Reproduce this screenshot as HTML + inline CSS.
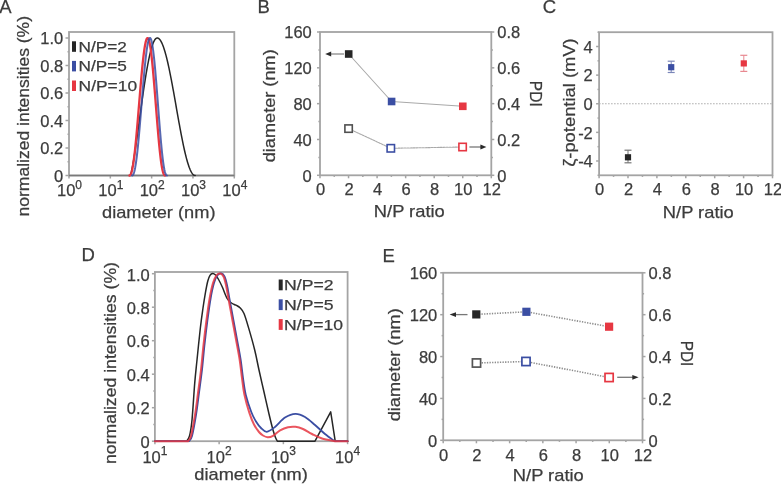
<!DOCTYPE html>
<html><head><meta charset="utf-8"><style>html,body{margin:0;padding:0;background:#fff;}svg{display:block;will-change:transform;}</style></head>
<body><svg width="781" height="484" viewBox="0 0 781 484" style="font-family:'Liberation Sans', sans-serif">
<rect width="781" height="484" fill="#fff"/>
<text x="-0.8" y="13.4" font-size="18.5" fill="#3c3c3c" stroke="#3c3c3c" stroke-width="0.25">A</text>
<text x="257.6" y="13.4" font-size="18.5" fill="#3c3c3c" stroke="#3c3c3c" stroke-width="0.25">B</text>
<text x="542.8" y="13.4" font-size="18.5" fill="#3c3c3c" stroke="#3c3c3c" stroke-width="0.25">C</text>
<text x="81.6" y="261.4" font-size="18.5" fill="#3c3c3c" stroke="#3c3c3c" stroke-width="0.25">D</text>
<text x="382.6" y="262.0" font-size="18.5" fill="#3c3c3c" stroke="#3c3c3c" stroke-width="0.25">E</text>
<line x1="65.50" y1="175.50" x2="69.00" y2="175.50" stroke="#a4a4a4" stroke-width="1.5"/>
<line x1="67.50" y1="161.75" x2="69.00" y2="161.75" stroke="#a4a4a4" stroke-width="1.5"/>
<line x1="65.50" y1="148.00" x2="69.00" y2="148.00" stroke="#a4a4a4" stroke-width="1.5"/>
<line x1="67.50" y1="134.25" x2="69.00" y2="134.25" stroke="#a4a4a4" stroke-width="1.5"/>
<line x1="65.50" y1="120.50" x2="69.00" y2="120.50" stroke="#a4a4a4" stroke-width="1.5"/>
<line x1="67.50" y1="106.75" x2="69.00" y2="106.75" stroke="#a4a4a4" stroke-width="1.5"/>
<line x1="65.50" y1="93.00" x2="69.00" y2="93.00" stroke="#a4a4a4" stroke-width="1.5"/>
<line x1="67.50" y1="79.25" x2="69.00" y2="79.25" stroke="#a4a4a4" stroke-width="1.5"/>
<line x1="65.50" y1="65.50" x2="69.00" y2="65.50" stroke="#a4a4a4" stroke-width="1.5"/>
<line x1="67.50" y1="51.75" x2="69.00" y2="51.75" stroke="#a4a4a4" stroke-width="1.5"/>
<line x1="65.50" y1="38.00" x2="69.00" y2="38.00" stroke="#a4a4a4" stroke-width="1.5"/>
<line x1="69.00" y1="175.50" x2="69.00" y2="178.50" stroke="#a4a4a4" stroke-width="1.5"/>
<line x1="110.33" y1="175.50" x2="110.33" y2="178.50" stroke="#a4a4a4" stroke-width="1.5"/>
<line x1="151.65" y1="175.50" x2="151.65" y2="178.50" stroke="#a4a4a4" stroke-width="1.5"/>
<line x1="192.98" y1="175.50" x2="192.98" y2="178.50" stroke="#a4a4a4" stroke-width="1.5"/>
<line x1="234.30" y1="175.50" x2="234.30" y2="178.50" stroke="#a4a4a4" stroke-width="1.5"/>
<rect x="69" y="32" width="165.30" height="143.50" fill="none" stroke="#a4a4a4" stroke-width="1.8"/>
<line x1="69.00" y1="175.50" x2="234.30" y2="175.50" stroke="#7a7a7a" stroke-width="1.6"/>
<text x="63.3" y="181.8" font-size="16.5" text-anchor="end" fill="#3c3c3c" stroke="#3c3c3c" stroke-width="0.25">0</text>
<text x="63.3" y="154.3" font-size="16.5" text-anchor="end" fill="#3c3c3c" stroke="#3c3c3c" stroke-width="0.25">0.2</text>
<text x="63.3" y="126.8" font-size="16.5" text-anchor="end" fill="#3c3c3c" stroke="#3c3c3c" stroke-width="0.25">0.4</text>
<text x="63.3" y="99.3" font-size="16.5" text-anchor="end" fill="#3c3c3c" stroke="#3c3c3c" stroke-width="0.25">0.6</text>
<text x="63.3" y="71.8" font-size="16.5" text-anchor="end" fill="#3c3c3c" stroke="#3c3c3c" stroke-width="0.25">0.8</text>
<text x="63.3" y="44.3" font-size="16.5" text-anchor="end" fill="#3c3c3c" stroke="#3c3c3c" stroke-width="0.25">1.0</text>
<text x="57.0" y="196.0" font-size="16.5" fill="#3c3c3c" stroke="#3c3c3c" stroke-width="0.25">10<tspan dy="-7.5" font-size="12">0</tspan></text>
<text x="98.3" y="196.0" font-size="16.5" fill="#3c3c3c" stroke="#3c3c3c" stroke-width="0.25">10<tspan dy="-7.5" font-size="12">1</tspan></text>
<text x="139.7" y="196.0" font-size="16.5" fill="#3c3c3c" stroke="#3c3c3c" stroke-width="0.25">10<tspan dy="-7.5" font-size="12">2</tspan></text>
<text x="181.0" y="196.0" font-size="16.5" fill="#3c3c3c" stroke="#3c3c3c" stroke-width="0.25">10<tspan dy="-7.5" font-size="12">3</tspan></text>
<text x="222.3" y="196.0" font-size="16.5" fill="#3c3c3c" stroke="#3c3c3c" stroke-width="0.25">10<tspan dy="-7.5" font-size="12">4</tspan></text>
<text x="102.0" y="218.3" font-size="17" textLength="113.5" lengthAdjust="spacingAndGlyphs" fill="#3c3c3c" stroke="#3c3c3c" stroke-width="0.25">diameter (nm)</text>
<text x="29.3" y="216.5" font-size="17" textLength="200.5" lengthAdjust="spacingAndGlyphs" transform="rotate(-90 29.3 216.5)" fill="#3c3c3c" stroke="#3c3c3c" stroke-width="0.25">normalized intensities (%)</text>
<rect x="72.00" y="41.30" width="4.00" height="10.50" fill="#262626"/>
<text x="78.6" y="51.8" font-size="15.5" textLength="48.3" lengthAdjust="spacingAndGlyphs" fill="#3c3c3c" stroke="#3c3c3c" stroke-width="0.25">N/P=2</text>
<rect x="72.00" y="60.90" width="4.00" height="10.50" fill="#3b4ea3"/>
<text x="78.6" y="71.4" font-size="15.5" textLength="48.3" lengthAdjust="spacingAndGlyphs" fill="#3c3c3c" stroke="#3c3c3c" stroke-width="0.25">N/P=5</text>
<rect x="72.00" y="80.50" width="4.00" height="10.50" fill="#e63742"/>
<text x="78.6" y="91.0" font-size="15.5" textLength="58.5" lengthAdjust="spacingAndGlyphs" fill="#3c3c3c" stroke="#3c3c3c" stroke-width="0.25">N/P=10</text>
<path d="M130.20,175.50 L130.60,174.64 L131.00,173.31 L131.40,171.72 L131.80,169.94 L132.20,167.99 L132.60,165.90 L133.00,163.70 L133.40,161.40 L133.80,159.00 L134.20,156.52 L134.60,153.97 L135.00,151.36 L135.40,148.69 L135.80,145.96 L136.20,143.19 L136.60,140.39 L137.00,137.55 L137.40,134.68 L137.80,131.79 L138.20,128.88 L138.60,125.96 L139.00,123.03 L139.40,120.09 L139.80,117.16 L140.20,114.23 L140.60,111.31 L141.00,108.40 L141.40,105.50 L141.80,102.63 L142.20,99.78 L142.60,96.96 L143.00,94.17 L143.40,91.42 L143.80,88.70 L144.20,86.03 L144.60,83.40 L145.00,80.82 L145.40,78.29 L145.80,75.82 L146.20,73.40 L146.60,71.04 L147.00,68.75 L147.40,66.52 L147.80,64.36 L148.20,62.27 L148.60,60.25 L149.00,58.31 L149.40,56.45 L149.80,54.66 L150.20,52.96 L150.60,51.34 L151.00,49.81 L151.40,48.36 L151.80,47.01 L152.20,45.74 L152.60,44.57 L153.00,43.49 L153.40,42.50 L153.80,41.61 L154.20,40.81 L154.60,40.12 L155.00,39.52 L155.40,39.02 L155.80,38.62 L156.20,38.31 L156.60,38.11 L157.00,38.01 L157.40,38.01 L157.80,38.08 L158.20,38.23 L158.60,38.46 L159.00,38.76 L159.40,39.13 L159.80,39.58 L160.20,40.10 L160.60,40.70 L161.00,41.36 L161.40,42.10 L161.80,42.91 L162.20,43.79 L162.60,44.74 L163.00,45.75 L163.40,46.84 L163.80,47.98 L164.20,49.19 L164.60,50.47 L165.00,51.81 L165.40,53.20 L165.80,54.66 L166.20,56.17 L166.60,57.74 L167.00,59.36 L167.40,61.03 L167.80,62.75 L168.20,64.52 L168.60,66.34 L169.00,68.20 L169.40,70.10 L169.80,72.05 L170.20,74.03 L170.60,76.05 L171.00,78.10 L171.40,80.18 L171.80,82.29 L172.20,84.43 L172.60,86.59 L173.00,88.77 L173.40,90.98 L173.80,93.20 L174.20,95.43 L174.60,97.68 L175.00,99.94 L175.40,102.21 L175.80,104.48 L176.20,106.75 L176.60,109.02 L177.00,111.29 L177.40,113.56 L177.80,115.82 L178.20,118.07 L178.60,120.30 L179.00,122.52 L179.40,124.73 L179.80,126.91 L180.20,129.07 L180.60,131.21 L181.00,133.32 L181.40,135.40 L181.80,137.45 L182.20,139.47 L182.60,141.45 L183.00,143.40 L183.40,145.30 L183.80,147.16 L184.20,148.98 L184.60,150.75 L185.00,152.47 L185.40,154.14 L185.80,155.76 L186.20,157.33 L186.60,158.84 L187.00,160.30 L187.40,161.69 L187.80,163.03 L188.20,164.31 L188.60,165.52 L189.00,166.66 L189.40,167.75 L189.80,168.76 L190.20,169.71 L190.60,170.59 L191.00,171.40 L191.40,172.14 L191.80,172.80 L192.20,173.40 L192.60,173.92 L193.00,174.37 L193.40,174.74 L193.80,175.04 L194.20,175.27 L194.60,175.42 L195.00,175.49 L195.20,175.50" fill="none" stroke="#262626" stroke-width="1.5" stroke-linejoin="round" stroke-linecap="round"/>
<path d="M129.40,175.50 L129.80,175.42 L130.20,175.12 L130.60,174.57 L131.00,173.75 L131.40,172.65 L131.80,171.26 L132.20,169.58 L132.60,167.62 L133.00,165.36 L133.40,162.82 L133.80,160.01 L134.20,156.93 L134.60,153.60 L135.00,150.02 L135.40,146.23 L135.80,142.23 L136.20,138.03 L136.60,133.67 L137.00,129.17 L137.40,124.54 L137.80,119.81 L138.20,115.00 L138.60,110.14 L139.00,105.25 L139.40,100.36 L139.80,95.49 L140.20,90.67 L140.60,85.93 L141.00,81.29 L141.40,76.77 L141.80,72.41 L142.20,68.21 L142.60,64.22 L143.00,60.44 L143.40,56.89 L143.80,53.61 L144.20,50.60 L144.60,47.88 L145.00,45.47 L145.40,43.38 L145.80,41.62 L146.20,40.20 L146.60,39.12 L147.00,38.41 L147.40,38.05 L147.80,38.05 L148.20,38.44 L148.60,39.21 L149.00,40.37 L149.40,41.91 L149.80,43.81 L150.20,46.07 L150.60,48.67 L151.00,51.59 L151.40,54.83 L151.80,58.35 L152.20,62.15 L152.60,66.19 L153.00,70.45 L153.40,74.92 L153.80,79.56 L154.20,84.34 L154.60,89.24 L155.00,94.23 L155.40,99.28 L155.80,104.37 L156.20,109.45 L156.60,114.51 L157.00,119.52 L157.40,124.44 L157.80,129.26 L158.20,133.94 L158.60,138.46 L159.00,142.80 L159.40,146.93 L159.80,150.83 L160.20,154.49 L160.60,157.88 L161.00,160.99 L161.40,163.82 L161.80,166.34 L162.20,168.56 L162.60,170.46 L163.00,172.05 L163.40,173.32 L163.80,174.29 L164.20,174.96 L164.60,175.35 L165.00,175.50 L165.10,175.50" fill="none" stroke="#e63742" stroke-width="2.3" stroke-linejoin="round" stroke-linecap="round"/>
<path d="M132.00,175.50 L132.40,175.41 L132.80,175.11 L133.20,174.54 L133.60,173.70 L134.00,172.58 L134.40,171.16 L134.80,169.44 L135.20,167.43 L135.60,165.12 L136.00,162.52 L136.40,159.64 L136.80,156.50 L137.20,153.09 L137.60,149.45 L138.00,145.57 L138.40,141.49 L138.80,137.22 L139.20,132.78 L139.60,128.20 L140.00,123.49 L140.40,118.69 L140.80,113.81 L141.20,108.89 L141.60,103.94 L142.00,99.00 L142.40,94.09 L142.80,89.24 L143.20,84.47 L143.60,79.82 L144.00,75.30 L144.40,70.94 L144.80,66.77 L145.20,62.80 L145.60,59.07 L146.00,55.59 L146.40,52.37 L146.80,49.45 L147.20,46.83 L147.60,44.52 L148.00,42.55 L148.40,40.93 L148.80,39.65 L149.20,38.74 L149.60,38.18 L150.00,38.00 L150.40,38.21 L150.80,38.82 L151.20,39.85 L151.60,41.28 L152.00,43.10 L152.40,45.30 L152.80,47.87 L153.20,50.79 L153.60,54.04 L154.00,57.60 L154.40,61.46 L154.80,65.58 L155.20,69.94 L155.60,74.52 L156.00,79.28 L156.40,84.20 L156.80,89.24 L157.20,94.38 L157.60,99.58 L158.00,104.81 L158.40,110.05 L158.80,115.25 L159.20,120.40 L159.60,125.45 L160.00,130.37 L160.40,135.15 L160.80,139.76 L161.20,144.16 L161.60,148.33 L162.00,152.26 L162.40,155.92 L162.80,159.29 L163.20,162.36 L163.60,165.12 L164.00,167.55 L164.40,169.66 L164.80,171.43 L165.20,172.87 L165.60,173.98 L166.00,174.77 L166.40,175.26 L166.80,175.48 L167.00,175.50" fill="none" stroke="#3b4ea3" stroke-width="2.0" stroke-linejoin="round" stroke-linecap="round" stroke-opacity="0.85"/>
<line x1="317.00" y1="175.30" x2="320.00" y2="175.30" stroke="#a4a4a4" stroke-width="1.5"/>
<line x1="491.30" y1="175.30" x2="494.30" y2="175.30" stroke="#a4a4a4" stroke-width="1.5"/>
<line x1="318.40" y1="157.39" x2="320.00" y2="157.39" stroke="#a4a4a4" stroke-width="1.5"/>
<line x1="491.30" y1="157.39" x2="492.90" y2="157.39" stroke="#a4a4a4" stroke-width="1.5"/>
<line x1="317.00" y1="139.48" x2="320.00" y2="139.48" stroke="#a4a4a4" stroke-width="1.5"/>
<line x1="491.30" y1="139.48" x2="494.30" y2="139.48" stroke="#a4a4a4" stroke-width="1.5"/>
<line x1="318.40" y1="121.56" x2="320.00" y2="121.56" stroke="#a4a4a4" stroke-width="1.5"/>
<line x1="491.30" y1="121.56" x2="492.90" y2="121.56" stroke="#a4a4a4" stroke-width="1.5"/>
<line x1="317.00" y1="103.65" x2="320.00" y2="103.65" stroke="#a4a4a4" stroke-width="1.5"/>
<line x1="491.30" y1="103.65" x2="494.30" y2="103.65" stroke="#a4a4a4" stroke-width="1.5"/>
<line x1="318.40" y1="85.74" x2="320.00" y2="85.74" stroke="#a4a4a4" stroke-width="1.5"/>
<line x1="491.30" y1="85.74" x2="492.90" y2="85.74" stroke="#a4a4a4" stroke-width="1.5"/>
<line x1="317.00" y1="67.83" x2="320.00" y2="67.83" stroke="#a4a4a4" stroke-width="1.5"/>
<line x1="491.30" y1="67.83" x2="494.30" y2="67.83" stroke="#a4a4a4" stroke-width="1.5"/>
<line x1="318.40" y1="49.91" x2="320.00" y2="49.91" stroke="#a4a4a4" stroke-width="1.5"/>
<line x1="491.30" y1="49.91" x2="492.90" y2="49.91" stroke="#a4a4a4" stroke-width="1.5"/>
<line x1="317.00" y1="32.00" x2="320.00" y2="32.00" stroke="#a4a4a4" stroke-width="1.5"/>
<line x1="491.30" y1="32.00" x2="494.30" y2="32.00" stroke="#a4a4a4" stroke-width="1.5"/>
<line x1="320.00" y1="175.30" x2="320.00" y2="178.30" stroke="#a4a4a4" stroke-width="1.5"/>
<line x1="334.27" y1="175.30" x2="334.27" y2="176.90" stroke="#a4a4a4" stroke-width="1.5"/>
<line x1="348.55" y1="175.30" x2="348.55" y2="178.30" stroke="#a4a4a4" stroke-width="1.5"/>
<line x1="362.82" y1="175.30" x2="362.82" y2="176.90" stroke="#a4a4a4" stroke-width="1.5"/>
<line x1="377.10" y1="175.30" x2="377.10" y2="178.30" stroke="#a4a4a4" stroke-width="1.5"/>
<line x1="391.38" y1="175.30" x2="391.38" y2="176.90" stroke="#a4a4a4" stroke-width="1.5"/>
<line x1="405.65" y1="175.30" x2="405.65" y2="178.30" stroke="#a4a4a4" stroke-width="1.5"/>
<line x1="419.93" y1="175.30" x2="419.93" y2="176.90" stroke="#a4a4a4" stroke-width="1.5"/>
<line x1="434.20" y1="175.30" x2="434.20" y2="178.30" stroke="#a4a4a4" stroke-width="1.5"/>
<line x1="448.48" y1="175.30" x2="448.48" y2="176.90" stroke="#a4a4a4" stroke-width="1.5"/>
<line x1="462.75" y1="175.30" x2="462.75" y2="178.30" stroke="#a4a4a4" stroke-width="1.5"/>
<line x1="477.02" y1="175.30" x2="477.02" y2="176.90" stroke="#a4a4a4" stroke-width="1.5"/>
<line x1="491.30" y1="175.30" x2="491.30" y2="178.30" stroke="#a4a4a4" stroke-width="1.5"/>
<rect x="320" y="32" width="171.30" height="143.30" fill="none" stroke="#a4a4a4" stroke-width="1.8"/>
<text x="311.8" y="181.6" font-size="16.5" text-anchor="end" fill="#3c3c3c" stroke="#3c3c3c" stroke-width="0.25">0</text>
<text x="311.8" y="145.8" font-size="16.5" text-anchor="end" fill="#3c3c3c" stroke="#3c3c3c" stroke-width="0.25">40</text>
<text x="311.8" y="110.0" font-size="16.5" text-anchor="end" fill="#3c3c3c" stroke="#3c3c3c" stroke-width="0.25">80</text>
<text x="311.8" y="74.1" font-size="16.5" text-anchor="end" fill="#3c3c3c" stroke="#3c3c3c" stroke-width="0.25">120</text>
<text x="311.8" y="38.3" font-size="16.5" text-anchor="end" fill="#3c3c3c" stroke="#3c3c3c" stroke-width="0.25">160</text>
<text x="497.3" y="181.6" font-size="16.5" fill="#3c3c3c" stroke="#3c3c3c" stroke-width="0.25">0</text>
<text x="497.3" y="145.8" font-size="16.5" fill="#3c3c3c" stroke="#3c3c3c" stroke-width="0.25">0.2</text>
<text x="497.3" y="110.0" font-size="16.5" fill="#3c3c3c" stroke="#3c3c3c" stroke-width="0.25">0.4</text>
<text x="497.3" y="74.1" font-size="16.5" fill="#3c3c3c" stroke="#3c3c3c" stroke-width="0.25">0.6</text>
<text x="497.3" y="38.3" font-size="16.5" fill="#3c3c3c" stroke="#3c3c3c" stroke-width="0.25">0.8</text>
<text x="320.5" y="195.3" font-size="16.5" text-anchor="middle" fill="#3c3c3c" stroke="#3c3c3c" stroke-width="0.25">0</text>
<text x="349.1" y="195.3" font-size="16.5" text-anchor="middle" fill="#3c3c3c" stroke="#3c3c3c" stroke-width="0.25">2</text>
<text x="377.6" y="195.3" font-size="16.5" text-anchor="middle" fill="#3c3c3c" stroke="#3c3c3c" stroke-width="0.25">4</text>
<text x="406.1" y="195.3" font-size="16.5" text-anchor="middle" fill="#3c3c3c" stroke="#3c3c3c" stroke-width="0.25">6</text>
<text x="434.7" y="195.3" font-size="16.5" text-anchor="middle" fill="#3c3c3c" stroke="#3c3c3c" stroke-width="0.25">8</text>
<text x="463.2" y="195.3" font-size="16.5" text-anchor="middle" fill="#3c3c3c" stroke="#3c3c3c" stroke-width="0.25">10</text>
<text x="491.8" y="195.3" font-size="16.5" text-anchor="middle" fill="#3c3c3c" stroke="#3c3c3c" stroke-width="0.25">12</text>
<text x="373.8" y="217.0" font-size="17" textLength="71.0" lengthAdjust="spacingAndGlyphs" fill="#3c3c3c" stroke="#3c3c3c" stroke-width="0.25">N/P ratio</text>
<text x="275.2" y="162.3" font-size="17" textLength="113.0" lengthAdjust="spacingAndGlyphs" transform="rotate(-90 275.2 162.3)" fill="#3c3c3c" stroke="#3c3c3c" stroke-width="0.25">diameter (nm)</text>
<text x="529.6" y="80.8" font-size="17" textLength="26.0" lengthAdjust="spacingAndGlyphs" transform="rotate(90 529.6 80.8)" fill="#3c3c3c" stroke="#3c3c3c" stroke-width="0.25">PDI</text>
<path d="M348.7,54 L391.6,101.5 L462.8,106.3" fill="none" stroke="#a9a9a9" stroke-width="1.1" stroke-linejoin="round" stroke-linecap="round"/>
<path d="M348.6,128.6 L390.8,148.3 L462.6,147" fill="none" stroke="#a9a9a9" stroke-width="1.1" stroke-linejoin="round" stroke-linecap="round" stroke-dasharray="2,1"/>
<line x1="344.00" y1="54.00" x2="330.00" y2="54.00" stroke="#8a8a8a" stroke-width="1.3"/>
<path d="M325.2,54 L331.2,51.6 L331.2,56.4 Z" fill="#2a2a2a"/>
<line x1="469.40" y1="147.00" x2="481.50" y2="147.00" stroke="#777" stroke-width="1.3"/>
<path d="M486.4,147 L480.4,144.6 L480.4,149.4 Z" fill="#2a2a2a"/>
<rect x="344.90" y="50.20" width="7.60" height="7.60" fill="#262626"/>
<rect x="387.80" y="97.70" width="7.60" height="7.60" fill="#3b4ea3"/>
<rect x="459.00" y="102.50" width="7.60" height="7.60" fill="#e63742"/>
<rect x="344.90" y="124.90" width="7.40" height="7.40" fill="#fff" stroke="#505050" stroke-width="1.6"/>
<rect x="387.10" y="144.60" width="7.40" height="7.40" fill="#fff" stroke="#3b4ea3" stroke-width="1.6"/>
<rect x="458.90" y="143.30" width="7.40" height="7.40" fill="#fff" stroke="#e63742" stroke-width="1.6"/>
<line x1="440.20" y1="440.30" x2="443.20" y2="440.30" stroke="#a4a4a4" stroke-width="1.5"/>
<line x1="642.50" y1="440.30" x2="645.50" y2="440.30" stroke="#a4a4a4" stroke-width="1.5"/>
<line x1="441.60" y1="419.36" x2="443.20" y2="419.36" stroke="#a4a4a4" stroke-width="1.5"/>
<line x1="642.50" y1="419.36" x2="644.10" y2="419.36" stroke="#a4a4a4" stroke-width="1.5"/>
<line x1="440.20" y1="398.43" x2="443.20" y2="398.43" stroke="#a4a4a4" stroke-width="1.5"/>
<line x1="642.50" y1="398.43" x2="645.50" y2="398.43" stroke="#a4a4a4" stroke-width="1.5"/>
<line x1="441.60" y1="377.49" x2="443.20" y2="377.49" stroke="#a4a4a4" stroke-width="1.5"/>
<line x1="642.50" y1="377.49" x2="644.10" y2="377.49" stroke="#a4a4a4" stroke-width="1.5"/>
<line x1="440.20" y1="356.55" x2="443.20" y2="356.55" stroke="#a4a4a4" stroke-width="1.5"/>
<line x1="642.50" y1="356.55" x2="645.50" y2="356.55" stroke="#a4a4a4" stroke-width="1.5"/>
<line x1="441.60" y1="335.61" x2="443.20" y2="335.61" stroke="#a4a4a4" stroke-width="1.5"/>
<line x1="642.50" y1="335.61" x2="644.10" y2="335.61" stroke="#a4a4a4" stroke-width="1.5"/>
<line x1="440.20" y1="314.68" x2="443.20" y2="314.68" stroke="#a4a4a4" stroke-width="1.5"/>
<line x1="642.50" y1="314.68" x2="645.50" y2="314.68" stroke="#a4a4a4" stroke-width="1.5"/>
<line x1="441.60" y1="293.74" x2="443.20" y2="293.74" stroke="#a4a4a4" stroke-width="1.5"/>
<line x1="642.50" y1="293.74" x2="644.10" y2="293.74" stroke="#a4a4a4" stroke-width="1.5"/>
<line x1="440.20" y1="272.80" x2="443.20" y2="272.80" stroke="#a4a4a4" stroke-width="1.5"/>
<line x1="642.50" y1="272.80" x2="645.50" y2="272.80" stroke="#a4a4a4" stroke-width="1.5"/>
<line x1="443.20" y1="440.30" x2="443.20" y2="443.30" stroke="#a4a4a4" stroke-width="1.5"/>
<line x1="459.81" y1="440.30" x2="459.81" y2="441.90" stroke="#a4a4a4" stroke-width="1.5"/>
<line x1="476.42" y1="440.30" x2="476.42" y2="443.30" stroke="#a4a4a4" stroke-width="1.5"/>
<line x1="493.02" y1="440.30" x2="493.02" y2="441.90" stroke="#a4a4a4" stroke-width="1.5"/>
<line x1="509.63" y1="440.30" x2="509.63" y2="443.30" stroke="#a4a4a4" stroke-width="1.5"/>
<line x1="526.24" y1="440.30" x2="526.24" y2="441.90" stroke="#a4a4a4" stroke-width="1.5"/>
<line x1="542.85" y1="440.30" x2="542.85" y2="443.30" stroke="#a4a4a4" stroke-width="1.5"/>
<line x1="559.46" y1="440.30" x2="559.46" y2="441.90" stroke="#a4a4a4" stroke-width="1.5"/>
<line x1="576.07" y1="440.30" x2="576.07" y2="443.30" stroke="#a4a4a4" stroke-width="1.5"/>
<line x1="592.67" y1="440.30" x2="592.67" y2="441.90" stroke="#a4a4a4" stroke-width="1.5"/>
<line x1="609.28" y1="440.30" x2="609.28" y2="443.30" stroke="#a4a4a4" stroke-width="1.5"/>
<line x1="625.89" y1="440.30" x2="625.89" y2="441.90" stroke="#a4a4a4" stroke-width="1.5"/>
<line x1="642.50" y1="440.30" x2="642.50" y2="443.30" stroke="#a4a4a4" stroke-width="1.5"/>
<rect x="443.2" y="272.8" width="199.30" height="167.50" fill="none" stroke="#a4a4a4" stroke-width="1.8"/>
<text x="437.3" y="446.6" font-size="16.5" text-anchor="end" fill="#3c3c3c" stroke="#3c3c3c" stroke-width="0.25">0</text>
<text x="437.3" y="404.7" font-size="16.5" text-anchor="end" fill="#3c3c3c" stroke="#3c3c3c" stroke-width="0.25">40</text>
<text x="437.3" y="362.9" font-size="16.5" text-anchor="end" fill="#3c3c3c" stroke="#3c3c3c" stroke-width="0.25">80</text>
<text x="437.3" y="321.0" font-size="16.5" text-anchor="end" fill="#3c3c3c" stroke="#3c3c3c" stroke-width="0.25">120</text>
<text x="437.3" y="279.1" font-size="16.5" text-anchor="end" fill="#3c3c3c" stroke="#3c3c3c" stroke-width="0.25">160</text>
<text x="648.5" y="446.6" font-size="16.5" fill="#3c3c3c" stroke="#3c3c3c" stroke-width="0.25">0</text>
<text x="648.5" y="404.7" font-size="16.5" fill="#3c3c3c" stroke="#3c3c3c" stroke-width="0.25">0.2</text>
<text x="648.5" y="362.9" font-size="16.5" fill="#3c3c3c" stroke="#3c3c3c" stroke-width="0.25">0.4</text>
<text x="648.5" y="321.0" font-size="16.5" fill="#3c3c3c" stroke="#3c3c3c" stroke-width="0.25">0.6</text>
<text x="648.5" y="279.1" font-size="16.5" fill="#3c3c3c" stroke="#3c3c3c" stroke-width="0.25">0.8</text>
<text x="443.7" y="461.3" font-size="16.5" text-anchor="middle" fill="#3c3c3c" stroke="#3c3c3c" stroke-width="0.25">0</text>
<text x="476.9" y="461.3" font-size="16.5" text-anchor="middle" fill="#3c3c3c" stroke="#3c3c3c" stroke-width="0.25">2</text>
<text x="510.1" y="461.3" font-size="16.5" text-anchor="middle" fill="#3c3c3c" stroke="#3c3c3c" stroke-width="0.25">4</text>
<text x="543.4" y="461.3" font-size="16.5" text-anchor="middle" fill="#3c3c3c" stroke="#3c3c3c" stroke-width="0.25">6</text>
<text x="576.6" y="461.3" font-size="16.5" text-anchor="middle" fill="#3c3c3c" stroke="#3c3c3c" stroke-width="0.25">8</text>
<text x="609.8" y="461.3" font-size="16.5" text-anchor="middle" fill="#3c3c3c" stroke="#3c3c3c" stroke-width="0.25">10</text>
<text x="643.0" y="461.3" font-size="16.5" text-anchor="middle" fill="#3c3c3c" stroke="#3c3c3c" stroke-width="0.25">12</text>
<text x="512.8" y="480.5" font-size="17" textLength="71.0" lengthAdjust="spacingAndGlyphs" fill="#3c3c3c" stroke="#3c3c3c" stroke-width="0.25">N/P ratio</text>
<text x="680.9" y="340.7" font-size="17" textLength="25.5" lengthAdjust="spacingAndGlyphs" transform="rotate(90 680.9 340.7)" fill="#3c3c3c" stroke="#3c3c3c" stroke-width="0.25">PDI</text>
<text x="399.8" y="421.3" font-size="17" textLength="113.0" lengthAdjust="spacingAndGlyphs" transform="rotate(-90 399.8 421.3)" fill="#3c3c3c" stroke="#3c3c3c" stroke-width="0.25">diameter (nm)</text>
<path d="M476.3,314.4 L526.4,311.8 L609.1,326.7" fill="none" stroke="#8c8c8c" stroke-width="1.6" stroke-linejoin="round" stroke-linecap="butt" stroke-dasharray="1.3,1.3"/>
<path d="M476.5,363 L526,361.5 L609.1,377.5" fill="none" stroke="#8c8c8c" stroke-width="1.6" stroke-linejoin="round" stroke-linecap="butt" stroke-dasharray="1.3,1.3"/>
<line x1="467.50" y1="314.60" x2="455.00" y2="314.60" stroke="#777" stroke-width="1.3"/>
<path d="M449.6,314.6 L456,312.2 L456,317 Z" fill="#2a2a2a"/>
<line x1="617.20" y1="377.30" x2="633.00" y2="377.30" stroke="#777" stroke-width="1.3"/>
<path d="M638.6,377.3 L632.3,374.9 L632.3,379.7 Z" fill="#2a2a2a"/>
<rect x="472.20" y="310.30" width="8.20" height="8.20" fill="#262626"/>
<rect x="522.30" y="307.70" width="8.20" height="8.20" fill="#3b4ea3"/>
<rect x="605.00" y="322.60" width="8.20" height="8.20" fill="#e63742"/>
<rect x="472.40" y="358.90" width="8.20" height="8.20" fill="#fff" stroke="#555" stroke-width="1.7"/>
<rect x="521.90" y="357.40" width="8.20" height="8.20" fill="#fff" stroke="#3b4ea3" stroke-width="1.7"/>
<rect x="605.00" y="373.40" width="8.20" height="8.20" fill="#fff" stroke="#e63742" stroke-width="1.7"/>
<line x1="597.50" y1="175.30" x2="599.10" y2="175.30" stroke="#a4a4a4" stroke-width="1.5"/>
<line x1="596.10" y1="160.99" x2="599.10" y2="160.99" stroke="#a4a4a4" stroke-width="1.5"/>
<line x1="597.50" y1="146.68" x2="599.10" y2="146.68" stroke="#a4a4a4" stroke-width="1.5"/>
<line x1="596.10" y1="132.37" x2="599.10" y2="132.37" stroke="#a4a4a4" stroke-width="1.5"/>
<line x1="597.50" y1="118.06" x2="599.10" y2="118.06" stroke="#a4a4a4" stroke-width="1.5"/>
<line x1="596.10" y1="103.75" x2="599.10" y2="103.75" stroke="#a4a4a4" stroke-width="1.5"/>
<line x1="597.50" y1="89.44" x2="599.10" y2="89.44" stroke="#a4a4a4" stroke-width="1.5"/>
<line x1="596.10" y1="75.13" x2="599.10" y2="75.13" stroke="#a4a4a4" stroke-width="1.5"/>
<line x1="597.50" y1="60.82" x2="599.10" y2="60.82" stroke="#a4a4a4" stroke-width="1.5"/>
<line x1="596.10" y1="46.51" x2="599.10" y2="46.51" stroke="#a4a4a4" stroke-width="1.5"/>
<line x1="597.50" y1="32.20" x2="599.10" y2="32.20" stroke="#a4a4a4" stroke-width="1.5"/>
<line x1="599.10" y1="175.30" x2="599.10" y2="178.30" stroke="#a4a4a4" stroke-width="1.5"/>
<line x1="613.55" y1="175.30" x2="613.55" y2="176.90" stroke="#a4a4a4" stroke-width="1.5"/>
<line x1="628.00" y1="175.30" x2="628.00" y2="178.30" stroke="#a4a4a4" stroke-width="1.5"/>
<line x1="642.45" y1="175.30" x2="642.45" y2="176.90" stroke="#a4a4a4" stroke-width="1.5"/>
<line x1="656.90" y1="175.30" x2="656.90" y2="178.30" stroke="#a4a4a4" stroke-width="1.5"/>
<line x1="671.35" y1="175.30" x2="671.35" y2="176.90" stroke="#a4a4a4" stroke-width="1.5"/>
<line x1="685.80" y1="175.30" x2="685.80" y2="178.30" stroke="#a4a4a4" stroke-width="1.5"/>
<line x1="700.25" y1="175.30" x2="700.25" y2="176.90" stroke="#a4a4a4" stroke-width="1.5"/>
<line x1="714.70" y1="175.30" x2="714.70" y2="178.30" stroke="#a4a4a4" stroke-width="1.5"/>
<line x1="729.15" y1="175.30" x2="729.15" y2="176.90" stroke="#a4a4a4" stroke-width="1.5"/>
<line x1="743.60" y1="175.30" x2="743.60" y2="178.30" stroke="#a4a4a4" stroke-width="1.5"/>
<line x1="758.05" y1="175.30" x2="758.05" y2="176.90" stroke="#a4a4a4" stroke-width="1.5"/>
<line x1="772.50" y1="175.30" x2="772.50" y2="178.30" stroke="#a4a4a4" stroke-width="1.5"/>
<rect x="599.1" y="32.2" width="173.40" height="143.10" fill="none" stroke="#a4a4a4" stroke-width="1.8"/>
<line x1="599.10" y1="103.75" x2="772.50" y2="103.75" stroke="#aaa" stroke-width="1.0" stroke-dasharray="1.5,1.5"/>
<text x="592.8" y="52.8" font-size="16.5" text-anchor="end" fill="#3c3c3c" stroke="#3c3c3c" stroke-width="0.25">4</text>
<text x="592.8" y="81.4" font-size="16.5" text-anchor="end" fill="#3c3c3c" stroke="#3c3c3c" stroke-width="0.25">2</text>
<text x="592.8" y="110.0" font-size="16.5" text-anchor="end" fill="#3c3c3c" stroke="#3c3c3c" stroke-width="0.25">0</text>
<text x="592.8" y="138.7" font-size="16.5" text-anchor="end" fill="#3c3c3c" stroke="#3c3c3c" stroke-width="0.25">-2</text>
<text x="592.8" y="167.3" font-size="16.5" text-anchor="end" fill="#3c3c3c" stroke="#3c3c3c" stroke-width="0.25">-4</text>
<text x="599.6" y="195.3" font-size="16.5" text-anchor="middle" fill="#3c3c3c" stroke="#3c3c3c" stroke-width="0.25">0</text>
<text x="628.5" y="195.3" font-size="16.5" text-anchor="middle" fill="#3c3c3c" stroke="#3c3c3c" stroke-width="0.25">2</text>
<text x="657.4" y="195.3" font-size="16.5" text-anchor="middle" fill="#3c3c3c" stroke="#3c3c3c" stroke-width="0.25">4</text>
<text x="686.3" y="195.3" font-size="16.5" text-anchor="middle" fill="#3c3c3c" stroke="#3c3c3c" stroke-width="0.25">6</text>
<text x="715.2" y="195.3" font-size="16.5" text-anchor="middle" fill="#3c3c3c" stroke="#3c3c3c" stroke-width="0.25">8</text>
<text x="744.1" y="195.3" font-size="16.5" text-anchor="middle" fill="#3c3c3c" stroke="#3c3c3c" stroke-width="0.25">10</text>
<text x="773.0" y="195.3" font-size="16.5" text-anchor="middle" fill="#3c3c3c" stroke="#3c3c3c" stroke-width="0.25">12</text>
<text x="662.8" y="218.0" font-size="17" textLength="71.0" lengthAdjust="spacingAndGlyphs" fill="#3c3c3c" stroke="#3c3c3c" stroke-width="0.25">N/P ratio</text>
<text x="574.6" y="166.8" font-size="17" textLength="128.5" lengthAdjust="spacingAndGlyphs" transform="rotate(-90 574.6 166.8)" fill="#3c3c3c" stroke="#3c3c3c" stroke-width="0.25">ζ-potential (mV)</text>
<line x1="628.00" y1="150.20" x2="628.00" y2="162.80" stroke="#777" stroke-width="1.0"/>
<line x1="624.50" y1="150.20" x2="631.50" y2="150.20" stroke="#777" stroke-width="1.2"/>
<line x1="624.50" y1="162.80" x2="631.50" y2="162.80" stroke="#777" stroke-width="1.2"/>
<rect x="624.90" y="154.20" width="6.20" height="6.20" fill="#262626"/>
<line x1="671.20" y1="61.20" x2="671.20" y2="72.50" stroke="#7a86b8" stroke-width="1.0"/>
<line x1="667.70" y1="61.20" x2="674.70" y2="61.20" stroke="#7a86b8" stroke-width="1.2"/>
<line x1="667.70" y1="72.50" x2="674.70" y2="72.50" stroke="#7a86b8" stroke-width="1.2"/>
<rect x="668.10" y="64.10" width="6.20" height="6.20" fill="#3b4ea3"/>
<line x1="743.80" y1="55.30" x2="743.80" y2="71.40" stroke="#e88890" stroke-width="1.0"/>
<line x1="740.30" y1="55.30" x2="747.30" y2="55.30" stroke="#e88890" stroke-width="1.2"/>
<line x1="740.30" y1="71.40" x2="747.30" y2="71.40" stroke="#e88890" stroke-width="1.2"/>
<rect x="740.70" y="60.30" width="6.20" height="6.20" fill="#e63742"/>
<line x1="151.90" y1="441.20" x2="154.90" y2="441.20" stroke="#a4a4a4" stroke-width="1.5"/>
<line x1="153.30" y1="424.45" x2="154.90" y2="424.45" stroke="#a4a4a4" stroke-width="1.5"/>
<line x1="151.90" y1="407.70" x2="154.90" y2="407.70" stroke="#a4a4a4" stroke-width="1.5"/>
<line x1="153.30" y1="390.95" x2="154.90" y2="390.95" stroke="#a4a4a4" stroke-width="1.5"/>
<line x1="151.90" y1="374.20" x2="154.90" y2="374.20" stroke="#a4a4a4" stroke-width="1.5"/>
<line x1="153.30" y1="357.45" x2="154.90" y2="357.45" stroke="#a4a4a4" stroke-width="1.5"/>
<line x1="151.90" y1="340.70" x2="154.90" y2="340.70" stroke="#a4a4a4" stroke-width="1.5"/>
<line x1="153.30" y1="323.95" x2="154.90" y2="323.95" stroke="#a4a4a4" stroke-width="1.5"/>
<line x1="151.90" y1="307.20" x2="154.90" y2="307.20" stroke="#a4a4a4" stroke-width="1.5"/>
<line x1="153.30" y1="290.45" x2="154.90" y2="290.45" stroke="#a4a4a4" stroke-width="1.5"/>
<line x1="151.90" y1="273.70" x2="154.90" y2="273.70" stroke="#a4a4a4" stroke-width="1.5"/>
<line x1="154.90" y1="441.20" x2="154.90" y2="444.20" stroke="#a4a4a4" stroke-width="1.5"/>
<line x1="219.13" y1="441.20" x2="219.13" y2="444.20" stroke="#a4a4a4" stroke-width="1.5"/>
<line x1="283.37" y1="441.20" x2="283.37" y2="444.20" stroke="#a4a4a4" stroke-width="1.5"/>
<line x1="347.60" y1="441.20" x2="347.60" y2="444.20" stroke="#a4a4a4" stroke-width="1.5"/>
<rect x="154.9" y="272" width="192.70" height="169.20" fill="none" stroke="#a4a4a4" stroke-width="1.8"/>
<text x="149.8" y="447.5" font-size="16.5" text-anchor="end" fill="#3c3c3c" stroke="#3c3c3c" stroke-width="0.25">0</text>
<text x="149.8" y="414.0" font-size="16.5" text-anchor="end" fill="#3c3c3c" stroke="#3c3c3c" stroke-width="0.25">0.2</text>
<text x="149.8" y="380.5" font-size="16.5" text-anchor="end" fill="#3c3c3c" stroke="#3c3c3c" stroke-width="0.25">0.4</text>
<text x="149.8" y="347.0" font-size="16.5" text-anchor="end" fill="#3c3c3c" stroke="#3c3c3c" stroke-width="0.25">0.6</text>
<text x="149.8" y="313.5" font-size="16.5" text-anchor="end" fill="#3c3c3c" stroke="#3c3c3c" stroke-width="0.25">0.8</text>
<text x="149.8" y="281.0" font-size="16.5" text-anchor="end" fill="#3c3c3c" stroke="#3c3c3c" stroke-width="0.25">1.0</text>
<text x="142.4" y="462.5" font-size="16.5" fill="#3c3c3c" stroke="#3c3c3c" stroke-width="0.25">10<tspan dy="-7.5" font-size="12">1</tspan></text>
<text x="206.6" y="462.5" font-size="16.5" fill="#3c3c3c" stroke="#3c3c3c" stroke-width="0.25">10<tspan dy="-7.5" font-size="12">2</tspan></text>
<text x="270.9" y="462.5" font-size="16.5" fill="#3c3c3c" stroke="#3c3c3c" stroke-width="0.25">10<tspan dy="-7.5" font-size="12">3</tspan></text>
<text x="335.1" y="462.5" font-size="16.5" fill="#3c3c3c" stroke="#3c3c3c" stroke-width="0.25">10<tspan dy="-7.5" font-size="12">4</tspan></text>
<text x="194.3" y="479.7" font-size="17" textLength="113.5" lengthAdjust="spacingAndGlyphs" fill="#3c3c3c" stroke="#3c3c3c" stroke-width="0.25">diameter (nm)</text>
<text x="116.2" y="464.0" font-size="17" textLength="202.0" lengthAdjust="spacingAndGlyphs" transform="rotate(-90 116.2 464.0)" fill="#3c3c3c" stroke="#3c3c3c" stroke-width="0.25">normalized intensities (%)</text>
<rect x="278.70" y="279.50" width="4.00" height="10.80" fill="#262626"/>
<text x="284.0" y="290.3" font-size="15.5" textLength="49.5" lengthAdjust="spacingAndGlyphs" fill="#3c3c3c" stroke="#3c3c3c" stroke-width="0.25">N/P=2</text>
<rect x="278.70" y="299.30" width="4.00" height="10.80" fill="#3b4ea3"/>
<text x="284.0" y="310.1" font-size="15.5" textLength="49.5" lengthAdjust="spacingAndGlyphs" fill="#3c3c3c" stroke="#3c3c3c" stroke-width="0.25">N/P=5</text>
<rect x="278.70" y="319.10" width="4.00" height="10.80" fill="#e63742"/>
<text x="284.0" y="329.9" font-size="15.5" textLength="59.0" lengthAdjust="spacingAndGlyphs" fill="#3c3c3c" stroke="#3c3c3c" stroke-width="0.25">N/P=10</text>
<path d="M154.90,441.20 L186.50,441.20 C187.00,440.33 188.58,439.53 189.50,436.00 C190.42,432.47 191.13,428.77 192.00,420.00 C192.87,411.23 193.87,393.40 194.70,383.40 C195.53,373.40 196.05,369.32 197.00,360.00 C197.95,350.68 199.40,336.17 200.40,327.50 C201.40,318.83 202.17,313.78 203.00,308.00 C203.83,302.22 204.60,297.30 205.40,292.80 C206.20,288.30 207.03,283.92 207.80,281.00 C208.57,278.08 209.18,276.55 210.00,275.30 C210.82,274.05 211.82,273.58 212.70,273.50 C213.58,273.42 214.37,273.88 215.30,274.80 C216.23,275.72 217.13,276.97 218.30,279.00 C219.47,281.03 220.83,283.75 222.30,287.00 C223.77,290.25 225.57,295.83 227.10,298.50 C228.63,301.17 230.02,301.88 231.50,303.00 C232.98,304.12 234.58,304.42 236.00,305.20 C237.42,305.98 238.67,306.32 240.00,307.70 C241.33,309.08 242.52,309.97 244.00,313.50 C245.48,317.03 247.12,322.82 248.90,328.90 C250.68,334.98 253.02,343.15 254.70,350.00 C256.38,356.85 257.45,363.00 259.00,370.00 C260.55,377.00 262.33,384.67 264.00,392.00 C265.67,399.33 267.50,407.67 269.00,414.00 C270.50,420.33 271.92,426.08 273.00,430.00 C274.08,433.92 274.77,435.63 275.50,437.50 C276.23,439.37 277.08,440.58 277.40,441.20 L315.00,441.20 L330.70,411.80 L335.20,441.20 L347.60,441.20" fill="none" stroke="#262626" stroke-width="1.5" stroke-linejoin="round" stroke-linecap="round"/>
<path d="M154.90,441.20 L189.00,441.20 C189.50,440.33 190.83,440.37 192.00,436.00 C193.17,431.63 194.83,422.17 196.00,415.00 C197.17,407.83 198.00,400.50 199.00,393.00 C200.00,385.50 201.08,378.00 202.00,370.00 C202.92,362.00 203.58,353.33 204.50,345.00 C205.42,336.67 206.47,327.83 207.50,320.00 C208.53,312.17 209.62,304.17 210.70,298.00 C211.78,291.83 212.87,286.78 214.00,283.00 C215.13,279.22 216.28,276.88 217.50,275.30 C218.72,273.72 220.13,273.30 221.30,273.50 C222.47,273.70 223.55,274.58 224.50,276.50 C225.45,278.42 226.13,281.08 227.00,285.00 C227.87,288.92 228.63,294.17 229.70,300.00 C230.77,305.83 232.17,313.33 233.40,320.00 C234.63,326.67 235.88,333.33 237.10,340.00 C238.32,346.67 239.72,353.67 240.70,360.00 C241.68,366.33 242.15,372.17 243.00,378.00 C243.85,383.83 244.42,389.33 245.80,395.00 C247.18,400.67 249.60,407.58 251.30,412.00 C253.00,416.42 254.38,418.83 256.00,421.50 C257.62,424.17 259.20,426.28 261.00,428.00 C262.80,429.72 264.47,431.97 266.80,431.80 C269.13,431.63 271.97,429.37 275.00,427.00 C278.03,424.63 281.58,419.80 285.00,417.60 C288.42,415.40 292.17,413.90 295.50,413.80 C298.83,413.70 301.75,415.13 305.00,417.00 C308.25,418.87 311.67,422.17 315.00,425.00 C318.33,427.83 321.73,431.30 325.00,434.00 C328.27,436.70 333.00,440.00 334.60,441.20 L347.60,441.20" fill="none" stroke="#3b4ea3" stroke-width="1.8" stroke-linejoin="round" stroke-linecap="round"/>
<path d="M154.90,441.20 L188.00,441.20 C188.50,440.33 189.83,440.37 191.00,436.00 C192.17,431.63 193.83,422.17 195.00,415.00 C196.17,407.83 197.00,400.50 198.00,393.00 C199.00,385.50 200.08,378.00 201.00,370.00 C201.92,362.00 202.58,353.33 203.50,345.00 C204.42,336.67 205.47,327.83 206.50,320.00 C207.53,312.17 208.62,304.17 209.70,298.00 C210.78,291.83 211.87,286.78 213.00,283.00 C214.13,279.22 215.28,276.88 216.50,275.30 C217.72,273.72 219.13,273.30 220.30,273.50 C221.47,273.70 222.55,274.58 223.50,276.50 C224.45,278.42 225.13,281.08 226.00,285.00 C226.87,288.92 227.63,294.17 228.70,300.00 C229.77,305.83 231.17,313.33 232.40,320.00 C233.63,326.67 234.88,333.33 236.10,340.00 C237.32,346.67 238.72,353.67 239.70,360.00 C240.68,366.33 241.20,372.17 242.00,378.00 C242.80,383.83 243.28,389.23 244.50,395.00 C245.72,400.77 247.72,407.68 249.30,412.60 C250.88,417.52 252.38,421.27 254.00,424.50 C255.62,427.73 257.50,430.17 259.00,432.00 C260.50,433.83 261.55,434.63 263.00,435.50 C264.45,436.37 266.03,437.15 267.70,437.20 C269.37,437.25 270.93,436.93 273.00,435.80 C275.07,434.67 277.60,431.83 280.10,430.40 C282.60,428.97 285.43,427.80 288.00,427.20 C290.57,426.60 293.00,426.50 295.50,426.80 C298.00,427.10 300.25,427.80 303.00,429.00 C305.75,430.20 308.83,432.42 312.00,434.00 C315.17,435.58 318.17,437.30 322.00,438.50 C325.83,439.70 332.83,440.75 335.00,441.20 L347.60,441.20" fill="none" stroke="#e63742" stroke-width="2.0" stroke-linejoin="round" stroke-linecap="round" stroke-opacity="0.85"/>
</svg></body></html>
